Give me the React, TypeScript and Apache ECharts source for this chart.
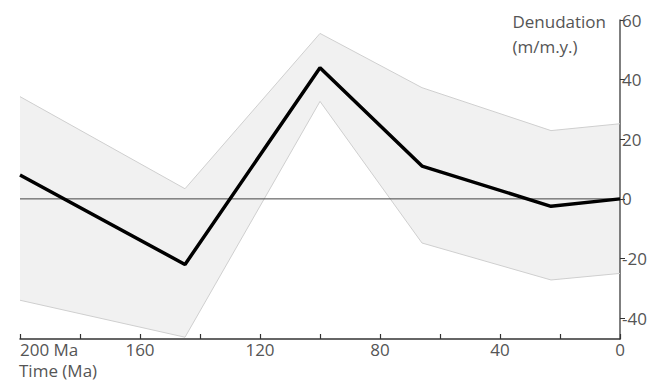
import React, { useEffect, useRef } from "react";
import * as echarts from "echarts";

const timesMa = [200, 145, 100, 66, 23, 0];
const denudation = [8, -22, 44, 11, -2.5, 0];
const upperBound = [34.3, 3.4, 55.5, 37.3, 22.9, 25.2];
const lowerBound = [-34, -46.4, 32.7, -14.8, -27.2, -25];
const yTicks = [-40, -20, 0, 20, 40, 60];
const xLabelValues = [200, 160, 120, 80, 40, 0];

const FONT = "'Open Sans', 'Noto Sans', sans-serif";
const FS = 17;

export default function App() {
  const ref = useRef<HTMLDivElement>(null);
  useEffect(() => {
    if (!ref.current) return;
    const chart = echarts.init(ref.current, undefined, { renderer: "svg" });
    const lowerData = timesMa.map((t, i) => [t, lowerBound[i]]);
    const upperData = timesMa.map((t, i) => [t, upperBound[i]]);
    const mainData = timesMa.map((t, i) => [t, denudation[i]]);
    const bandData = timesMa.map((t, i) => [t, lowerBound[i], upperBound[i]]);
    chart.setOption({
      animation: false,
      grid: { left: 20, right: 38, top: 20, bottom: 42 },
      xAxis: {
        type: "value",
        inverse: true,
        min: 0,
        max: 200,
        interval: 20,
        splitLine: { show: false },
        axisLine: { show: true, onZero: false, lineStyle: { color: "#333", width: 1.5 } },
        axisTick: { show: true, inside: true, length: 5, lineStyle: { color: "#333", width: 1.2 } },
        axisLabel: {
          color: "#555",
          fontSize: FS,
          fontFamily: FONT,
          margin: 2,
          lineHeight: 17,
          showMinLabel: true,
          showMaxLabel: true,
          alignMaxLabel: "left",
          formatter: (v: number) =>
            xLabelValues.includes(v) ? (v === 200 ? "200 Ma" : String(v)) : "",
        },
      },
      yAxis: {
        type: "value",
        position: "right",
        min: -47,
        max: 60,
        splitLine: { show: false },
        axisLine: { show: true, onZero: false, lineStyle: { color: "#555", width: 1.5 } },
        axisTick: { show: true, length: 5, customValues: yTicks, lineStyle: { color: "#333" } },
        axisLabel: {
          color: "#555",
          fontSize: FS,
          fontFamily: FONT,
          margin: 2,
          customValues: yTicks,
          formatter: (v: number) => (v < 0 ? "-" + Math.abs(v) : String(v)),
        },
      },
      graphic: [
        {
          type: "text",
          right: 52,
          top: 9,
          z: 100,
          style: {
            text: "Denudation\n(m/m.y.)",
            fill: "#555",
            fontSize: FS,
            fontFamily: FONT,
            align: "right",
            lineHeight: 25,
          },
        },
        {
          type: "text",
          left: 19,
          top: 362,
          z: 100,
          style: { text: "Time (Ma)", fill: "#555", fontSize: FS, fontFamily: FONT, lineHeight: 17 },
        },
      ],
      series: [
        {
          type: "custom",
          data: bandData,
          z: 0,
          silent: true,
          renderItem: (params: any, api: any) => {
            if (params.dataIndex !== 0) return null;
            const top = bandData.map((d) => api.coord([d[0], d[2]]));
            const bottom = bandData.map((d) => api.coord([d[0], d[1]])).reverse();
            return {
              type: "polygon",
              shape: { points: top.concat(bottom) },
              style: { fill: "#f1f1f1", stroke: "none" },
            };
          },
        },
        {
          type: "line",
          data: lowerData,
          symbol: "none",
          lineStyle: { color: "#cfcfcf", width: 1 },
          z: 1,
        },
        {
          type: "line",
          data: upperData,
          symbol: "none",
          lineStyle: { color: "#cfcfcf", width: 1 },
          z: 1,
        },
        {
          type: "line",
          data: [
            [200, 0],
            [0, 0],
          ],
          symbol: "none",
          lineStyle: { color: "#444", width: 1 },
          z: 2,
        },
        {
          type: "line",
          data: mainData,
          symbol: "none",
          lineStyle: { color: "#000", width: 3.5 },
          z: 3,
        },
      ],
    });
    return () => chart.dispose();
  }, []);
  return <div ref={ref} style={{ width: 658, height: 381, position: "absolute", left: 0, top: 0 }} />;
}
